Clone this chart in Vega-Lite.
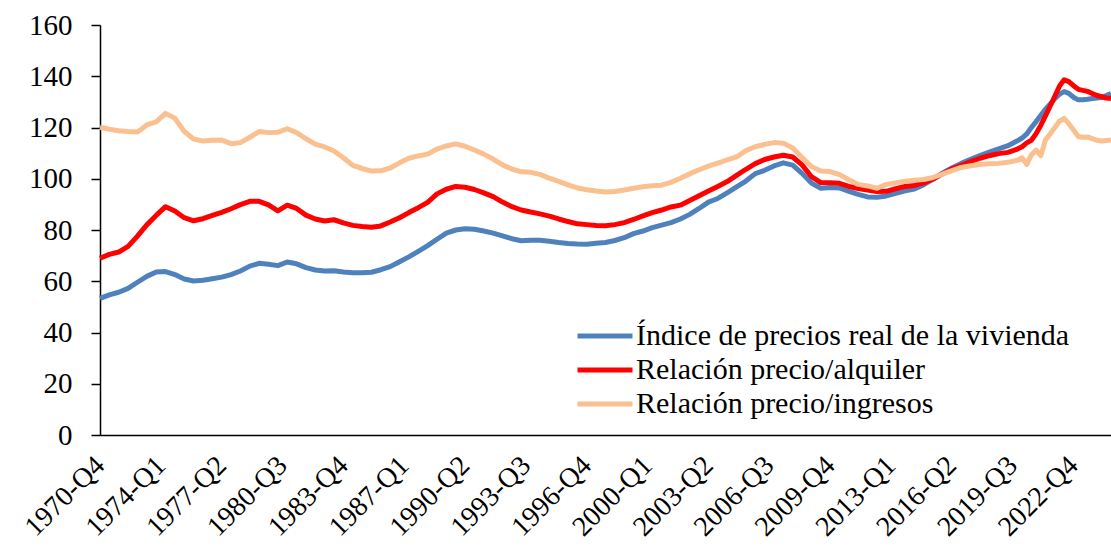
{
  "$schema": "https://vega.github.io/schema/vega-lite/v6.json",
  "width": 1011,
  "height": 410,
  "autosize": {"type": "none"},
  "padding": {"left": 100, "top": 25, "right": 0, "bottom": 113},
  "background": "white",
  "config": {"view": {"stroke": null}, "font": "Liberation Serif"},
  "data": {"values": [
    {"fecha": "1970-10-01", "indice": 53.3, "alquiler": 69.0, "ingresos": 120.1},
    {"fecha": "1971-04-01", "indice": 54.7, "alquiler": 70.5, "ingresos": 119.3},
    {"fecha": "1971-10-01", "indice": 55.7, "alquiler": 71.4, "ingresos": 118.7},
    {"fecha": "1972-04-01", "indice": 57.2, "alquiler": 73.6, "ingresos": 118.4},
    {"fecha": "1972-10-01", "indice": 59.6, "alquiler": 77.6, "ingresos": 118.2},
    {"fecha": "1973-04-01", "indice": 61.9, "alquiler": 82.0, "ingresos": 121.0},
    {"fecha": "1973-10-01", "indice": 63.6, "alquiler": 85.7, "ingresos": 122.2},
    {"fecha": "1974-04-01", "indice": 63.8, "alquiler": 89.1, "ingresos": 125.5},
    {"fecha": "1974-10-01", "indice": 62.6, "alquiler": 87.4, "ingresos": 123.6},
    {"fecha": "1975-04-01", "indice": 60.9, "alquiler": 84.8, "ingresos": 118.5},
    {"fecha": "1975-10-01", "indice": 60.1, "alquiler": 83.6, "ingresos": 115.5},
    {"fecha": "1976-04-01", "indice": 60.4, "alquiler": 84.4, "ingresos": 114.7},
    {"fecha": "1976-10-01", "indice": 61.0, "alquiler": 85.7, "ingresos": 115.0},
    {"fecha": "1977-04-01", "indice": 61.6, "alquiler": 86.9, "ingresos": 115.1},
    {"fecha": "1977-10-01", "indice": 62.6, "alquiler": 88.3, "ingresos": 113.7},
    {"fecha": "1978-04-01", "indice": 64.0, "alquiler": 89.9, "ingresos": 114.1},
    {"fecha": "1978-10-01", "indice": 65.9, "alquiler": 91.2, "ingresos": 116.2},
    {"fecha": "1979-04-01", "indice": 67.0, "alquiler": 91.2, "ingresos": 118.4},
    {"fecha": "1979-10-01", "indice": 66.6, "alquiler": 89.8, "ingresos": 118.0},
    {"fecha": "1980-04-01", "indice": 66.1, "alquiler": 87.5, "ingresos": 118.1},
    {"fecha": "1980-10-01", "indice": 67.5, "alquiler": 89.7, "ingresos": 119.5},
    {"fecha": "1981-04-01", "indice": 66.8, "alquiler": 88.4, "ingresos": 118.0},
    {"fecha": "1981-10-01", "indice": 65.3, "alquiler": 85.8, "ingresos": 115.6},
    {"fecha": "1982-04-01", "indice": 64.4, "alquiler": 84.3, "ingresos": 113.5},
    {"fecha": "1982-10-01", "indice": 64.0, "alquiler": 83.5, "ingresos": 112.4},
    {"fecha": "1983-04-01", "indice": 64.1, "alquiler": 84.0, "ingresos": 110.8},
    {"fecha": "1983-10-01", "indice": 63.6, "alquiler": 82.8, "ingresos": 108.2},
    {"fecha": "1984-04-01", "indice": 63.3, "alquiler": 81.8, "ingresos": 105.2},
    {"fecha": "1984-10-01", "indice": 63.3, "alquiler": 81.4, "ingresos": 104.0},
    {"fecha": "1985-04-01", "indice": 63.5, "alquiler": 81.1, "ingresos": 103.0},
    {"fecha": "1985-10-01", "indice": 64.5, "alquiler": 81.6, "ingresos": 103.1},
    {"fecha": "1986-04-01", "indice": 65.7, "alquiler": 83.1, "ingresos": 104.2},
    {"fecha": "1986-10-01", "indice": 67.6, "alquiler": 84.8, "ingresos": 106.2},
    {"fecha": "1987-04-01", "indice": 69.5, "alquiler": 86.8, "ingresos": 108.0},
    {"fecha": "1987-10-01", "indice": 71.7, "alquiler": 88.7, "ingresos": 108.9},
    {"fecha": "1988-04-01", "indice": 73.9, "alquiler": 90.8, "ingresos": 109.6},
    {"fecha": "1988-10-01", "indice": 76.4, "alquiler": 94.1, "ingresos": 111.6},
    {"fecha": "1989-04-01", "indice": 78.8, "alquiler": 95.9, "ingresos": 112.8},
    {"fecha": "1989-10-01", "indice": 80.0, "alquiler": 97.0, "ingresos": 113.6},
    {"fecha": "1990-04-01", "indice": 80.5, "alquiler": 96.7, "ingresos": 112.7},
    {"fecha": "1990-10-01", "indice": 80.3, "alquiler": 95.8, "ingresos": 111.2},
    {"fecha": "1991-04-01", "indice": 79.6, "alquiler": 94.5, "ingresos": 109.6},
    {"fecha": "1991-10-01", "indice": 78.8, "alquiler": 93.0, "ingresos": 107.7},
    {"fecha": "1992-04-01", "indice": 77.7, "alquiler": 90.9, "ingresos": 105.4},
    {"fecha": "1992-10-01", "indice": 76.6, "alquiler": 89.1, "ingresos": 103.8},
    {"fecha": "1993-04-01", "indice": 75.8, "alquiler": 87.8, "ingresos": 102.7},
    {"fecha": "1993-10-01", "indice": 76.0, "alquiler": 87.0, "ingresos": 102.5},
    {"fecha": "1994-04-01", "indice": 76.0, "alquiler": 86.3, "ingresos": 101.7},
    {"fecha": "1994-10-01", "indice": 75.6, "alquiler": 85.4, "ingresos": 100.2},
    {"fecha": "1995-04-01", "indice": 75.1, "alquiler": 84.3, "ingresos": 99.0},
    {"fecha": "1995-10-01", "indice": 74.7, "alquiler": 83.3, "ingresos": 97.6},
    {"fecha": "1996-04-01", "indice": 74.5, "alquiler": 82.4, "ingresos": 96.4},
    {"fecha": "1996-10-01", "indice": 74.4, "alquiler": 82.1, "ingresos": 95.7},
    {"fecha": "1997-04-01", "indice": 74.8, "alquiler": 81.8, "ingresos": 95.2},
    {"fecha": "1997-10-01", "indice": 75.1, "alquiler": 81.7, "ingresos": 94.8},
    {"fecha": "1998-04-01", "indice": 75.9, "alquiler": 82.1, "ingresos": 95.0},
    {"fecha": "1998-10-01", "indice": 77.0, "alquiler": 82.9, "ingresos": 95.6},
    {"fecha": "1999-04-01", "indice": 78.6, "alquiler": 84.1, "ingresos": 96.3},
    {"fecha": "1999-10-01", "indice": 79.6, "alquiler": 85.5, "ingresos": 96.9},
    {"fecha": "2000-04-01", "indice": 80.9, "alquiler": 86.8, "ingresos": 97.3},
    {"fecha": "2000-10-01", "indice": 81.9, "alquiler": 87.8, "ingresos": 97.5},
    {"fecha": "2001-04-01", "indice": 82.9, "alquiler": 89.0, "ingresos": 98.6},
    {"fecha": "2001-10-01", "indice": 84.3, "alquiler": 89.7, "ingresos": 100.2},
    {"fecha": "2002-04-01", "indice": 86.1, "alquiler": 91.5, "ingresos": 101.9},
    {"fecha": "2002-10-01", "indice": 88.4, "alquiler": 93.4, "ingresos": 103.5},
    {"fecha": "2003-04-01", "indice": 90.9, "alquiler": 95.2, "ingresos": 104.9},
    {"fecha": "2003-10-01", "indice": 92.3, "alquiler": 97.0, "ingresos": 106.1},
    {"fecha": "2004-04-01", "indice": 94.5, "alquiler": 98.9, "ingresos": 107.4},
    {"fecha": "2004-10-01", "indice": 96.8, "alquiler": 101.3, "ingresos": 108.5},
    {"fecha": "2005-04-01", "indice": 99.1, "alquiler": 103.7, "ingresos": 111.0},
    {"fecha": "2005-10-01", "indice": 102.0, "alquiler": 105.9, "ingresos": 112.5},
    {"fecha": "2006-04-01", "indice": 103.3, "alquiler": 107.5, "ingresos": 113.4},
    {"fecha": "2006-10-01", "indice": 105.0, "alquiler": 108.5, "ingresos": 114.1},
    {"fecha": "2007-04-01", "indice": 106.2, "alquiler": 109.2, "ingresos": 113.9},
    {"fecha": "2007-10-01", "indice": 105.3, "alquiler": 108.5, "ingresos": 112.0},
    {"fecha": "2008-04-01", "indice": 102.1, "alquiler": 105.4, "ingresos": 108.3},
    {"fecha": "2008-10-01", "indice": 98.3, "alquiler": 100.8, "ingresos": 104.8},
    {"fecha": "2009-04-01", "indice": 96.3, "alquiler": 98.5, "ingresos": 103.0},
    {"fecha": "2009-10-01", "indice": 96.6, "alquiler": 98.4, "ingresos": 102.8},
    {"fecha": "2010-04-01", "indice": 96.4, "alquiler": 98.2, "ingresos": 101.6},
    {"fecha": "2010-10-01", "indice": 95.1, "alquiler": 97.0, "ingresos": 99.6},
    {"fecha": "2011-04-01", "indice": 93.9, "alquiler": 96.2, "ingresos": 97.8},
    {"fecha": "2011-10-01", "indice": 92.9, "alquiler": 95.6, "ingresos": 97.2},
    {"fecha": "2012-04-01", "indice": 92.8, "alquiler": 95.0, "ingresos": 96.3},
    {"fecha": "2012-10-01", "indice": 93.3, "alquiler": 95.1, "ingresos": 97.8},
    {"fecha": "2013-04-01", "indice": 94.3, "alquiler": 96.1, "ingresos": 98.4},
    {"fecha": "2013-10-01", "indice": 95.3, "alquiler": 97.0, "ingresos": 99.0},
    {"fecha": "2014-04-01", "indice": 96.0, "alquiler": 97.4, "ingresos": 99.4},
    {"fecha": "2014-10-01", "indice": 97.7, "alquiler": 98.4, "ingresos": 99.7},
    {"fecha": "2015-04-01", "indice": 99.9, "alquiler": 99.9, "ingresos": 100.5},
    {"fecha": "2015-10-01", "indice": 102.2, "alquiler": 101.9, "ingresos": 101.8},
    {"fecha": "2016-04-01", "indice": 104.2, "alquiler": 103.9, "ingresos": 103.2},
    {"fecha": "2016-10-01", "indice": 106.0, "alquiler": 105.2, "ingresos": 104.4},
    {"fecha": "2017-04-01", "indice": 107.6, "alquiler": 106.7, "ingresos": 105.1},
    {"fecha": "2017-10-01", "indice": 109.0, "alquiler": 108.0, "ingresos": 105.6},
    {"fecha": "2018-04-01", "indice": 110.4, "alquiler": 109.0, "ingresos": 105.9},
    {"fecha": "2018-10-01", "indice": 111.7, "alquiler": 109.8, "ingresos": 106.0},
    {"fecha": "2019-04-01", "indice": 112.9, "alquiler": 110.3, "ingresos": 106.4},
    {"fecha": "2019-10-01", "indice": 114.8, "alquiler": 111.6, "ingresos": 107.2},
    {"fecha": "2020-01-01", "indice": 115.9, "alquiler": 112.5, "ingresos": 108.2},
    {"fecha": "2020-04-01", "indice": 117.5, "alquiler": 114.0, "ingresos": 105.6},
    {"fecha": "2020-07-01", "indice": 120.0, "alquiler": 115.0, "ingresos": 109.3},
    {"fecha": "2020-10-01", "indice": 122.3, "alquiler": 117.6, "ingresos": 111.2},
    {"fecha": "2021-01-01", "indice": 124.8, "alquiler": 120.9, "ingresos": 109.0},
    {"fecha": "2021-04-01", "indice": 127.1, "alquiler": 124.5, "ingresos": 115.1},
    {"fecha": "2021-07-01", "indice": 129.1, "alquiler": 128.3, "ingresos": 117.5},
    {"fecha": "2021-10-01", "indice": 131.3, "alquiler": 132.2, "ingresos": 120.0},
    {"fecha": "2022-01-01", "indice": 133.0, "alquiler": 136.2, "ingresos": 122.5},
    {"fecha": "2022-04-01", "indice": 134.0, "alquiler": 138.6, "ingresos": 123.6},
    {"fecha": "2022-07-01", "indice": 133.3, "alquiler": 137.9, "ingresos": 121.5},
    {"fecha": "2022-10-01", "indice": 131.8, "alquiler": 136.3, "ingresos": 119.0},
    {"fecha": "2023-01-01", "indice": 130.8, "alquiler": 134.9, "ingresos": 116.5},
    {"fecha": "2023-04-01", "indice": 130.8, "alquiler": 134.5, "ingresos": 116.2},
    {"fecha": "2023-07-01", "indice": 131.0, "alquiler": 134.1, "ingresos": 116.3},
    {"fecha": "2023-10-01", "indice": 131.3, "alquiler": 133.3, "ingresos": 115.7},
    {"fecha": "2024-01-01", "indice": 131.5, "alquiler": 132.5, "ingresos": 115.0},
    {"fecha": "2024-04-01", "indice": 131.7, "alquiler": 132.0, "ingresos": 114.7},
    {"fecha": "2024-07-01", "indice": 132.5, "alquiler": 131.5, "ingresos": 114.9},
    {"fecha": "2024-10-01", "indice": 133.3, "alquiler": 131.3, "ingresos": 115.1}
  ]},
  "transform": [{"fold": ["indice", "alquiler", "ingresos"], "as": ["serie", "valor"]}],
  "mark": {"type": "line", "strokeWidth": 5, "strokeJoin": "round"},
  "encoding": {
    "x": {
      "field": "fecha",
      "type": "temporal",
      "scale": {"type": "utc", "domain": [{"year": 1970, "month": 10, "date": 1, "utc": true}, {"year": 2024, "month": 10, "date": 1, "utc": true}]},
      "axis": {
        "title": null,
        "values": [
          {"year": 1970, "month": 10, "date": 1, "utc": true},
          {"year": 1974, "month": 1, "date": 1, "utc": true},
          {"year": 1977, "month": 4, "date": 1, "utc": true},
          {"year": 1980, "month": 7, "date": 1, "utc": true},
          {"year": 1983, "month": 10, "date": 1, "utc": true},
          {"year": 1987, "month": 1, "date": 1, "utc": true},
          {"year": 1990, "month": 4, "date": 1, "utc": true},
          {"year": 1993, "month": 7, "date": 1, "utc": true},
          {"year": 1996, "month": 10, "date": 1, "utc": true},
          {"year": 2000, "month": 1, "date": 1, "utc": true},
          {"year": 2003, "month": 4, "date": 1, "utc": true},
          {"year": 2006, "month": 7, "date": 1, "utc": true},
          {"year": 2009, "month": 10, "date": 1, "utc": true},
          {"year": 2013, "month": 1, "date": 1, "utc": true},
          {"year": 2016, "month": 4, "date": 1, "utc": true},
          {"year": 2019, "month": 7, "date": 1, "utc": true},
          {"year": 2022, "month": 10, "date": 1, "utc": true}
        ],
        "format": "%Y-Q%q",
        "labelAngle": -45,
        "labelAlign": "right",
        "labelBaseline": "middle",
        "labelFontSize": 28,
        "labelColor": "black",
        "labelPadding": 26,
        "labelOffset": 0,
        "labelOverlap": false,
        "labelBound": false,
        "labelFlush": false,
        "ticks": false,
        "grid": false,
        "domainColor": "black",
        "domainWidth": 1.5
      }
    },
    "y": {
      "field": "valor",
      "type": "quantitative",
      "scale": {"domain": [0, 160], "nice": false, "zero": true},
      "axis": {
        "title": null,
        "values": [0, 20, 40, 60, 80, 100, 120, 140, 160],
        "grid": false,
        "labelFontSize": 29,
        "labelColor": "black",
        "labelPadding": 19,
        "tickSize": 9,
        "tickColor": "black",
        "tickWidth": 1.5,
        "domainColor": "black",
        "domainWidth": 1.5
      }
    },
    "color": {
      "field": "serie",
      "type": "nominal",
      "sort": ["indice", "alquiler", "ingresos"],
      "scale": {"domain": ["indice", "alquiler", "ingresos"], "range": ["#4F81BD", "#FF0000", "#FAC090"]},
      "legend": {
        "orient": "none",
        "legendX": 487,
        "legendY": 293,
        "title": null,
        "padding": 0,
        "symbolType": "M-1.774,0H1.774",
        "symbolStrokeWidth": 5,
        "symbolSize": 961,
        "labelFontSize": 30,
        "labelColor": "black",
        "labelLimit": 700,
        "labelOffset": 13,
        "rowPadding": 1,
        "labelExpr": "datum.value == 'indice' ? 'Índice de precios real de la vivienda' : datum.value == 'alquiler' ? 'Relación precio/alquiler' : 'Relación precio/ingresos'"
      }
    }
  }
}
